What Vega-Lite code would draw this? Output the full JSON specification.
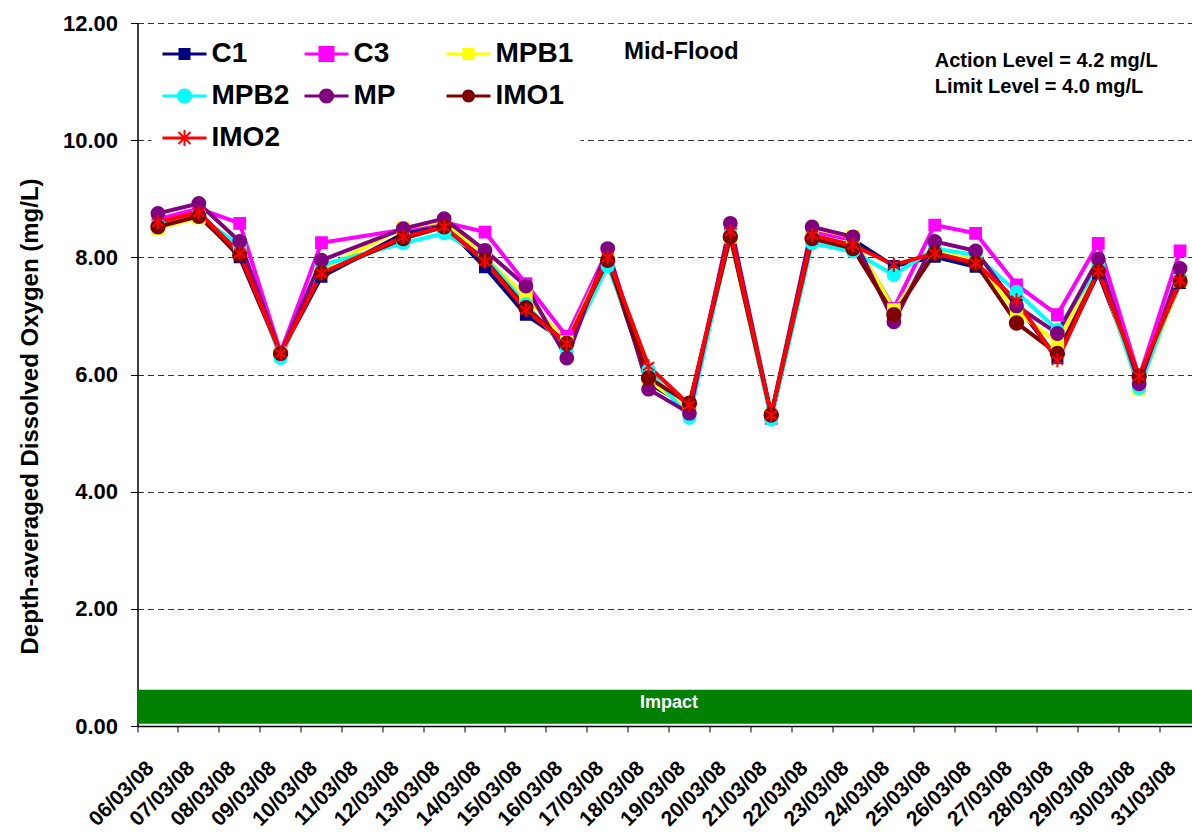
{
  "$schema": "https://vega.github.io/schema/vega-lite/v6.json",
  "width": 1063,
  "height": 703,
  "autosize": {"type": "none"},
  "padding": {"left": 137.5, "top": 23, "right": 0, "bottom": 106},
  "background": "white",
  "config": {"font": "Liberation Sans", "view": {"stroke": null}},
  "datasets": {
    "do": [
      {"date": "06/03/08", "C1": 8.55, "C3": 8.65, "MPB1": 8.5, "MPB2": 8.55, "MP": 8.75, "IMO1": 8.52, "IMO2": 8.6},
      {"date": "07/03/08", "C1": 8.75, "C3": 8.83, "MPB1": 8.68, "MPB2": 8.7, "MP": 8.92, "IMO1": 8.7, "IMO2": 8.77},
      {"date": "08/03/08", "C1": 8.0, "C3": 8.58, "MPB1": 8.1, "MPB2": 8.2, "MP": 8.27, "IMO1": 8.04, "IMO2": 8.07},
      {"date": "09/03/08", "C1": 6.36, "C3": 6.38, "MPB1": 6.36, "MPB2": 6.28, "MP": 6.36, "IMO1": 6.36, "IMO2": 6.36},
      {"date": "10/03/08", "C1": 7.67, "C3": 8.25, "MPB1": 7.8, "MPB2": 7.87, "MP": 7.95, "IMO1": 7.73, "IMO2": 7.73},
      {"date": "12/03/08", "C1": 8.4, "C3": 8.47, "MPB1": 8.5, "MPB2": 8.24, "MP": 8.49, "IMO1": 8.32, "IMO2": 8.35},
      {"date": "13/03/08", "C1": 8.55, "C3": 8.6, "MPB1": 8.62, "MPB2": 8.41, "MP": 8.66, "IMO1": 8.52, "IMO2": 8.52},
      {"date": "14/03/08", "C1": 7.83, "C3": 8.43, "MPB1": 8.0, "MPB2": 8.0, "MP": 8.12, "IMO1": 7.95, "IMO2": 7.93},
      {"date": "15/03/08", "C1": 7.02, "C3": 7.55, "MPB1": 7.33, "MPB2": 7.2, "MP": 7.51, "IMO1": 7.14, "IMO2": 7.1},
      {"date": "16/03/08", "C1": 6.55, "C3": 6.65, "MPB1": 6.55, "MPB2": 6.42, "MP": 6.28, "IMO1": 6.53, "IMO2": 6.53},
      {"date": "17/03/08", "C1": 7.95, "C3": 8.12, "MPB1": 8.05, "MPB2": 7.85, "MP": 8.15, "IMO1": 7.95, "IMO2": 8.0},
      {"date": "18/03/08", "C1": 5.85, "C3": 5.95, "MPB1": 5.9, "MPB2": 6.08, "MP": 5.75, "IMO1": 5.94, "IMO2": 6.14},
      {"date": "19/03/08", "C1": 5.45, "C3": 5.45, "MPB1": 5.4, "MPB2": 5.26, "MP": 5.34, "IMO1": 5.51, "IMO2": 5.48},
      {"date": "20/03/08", "C1": 8.4, "C3": 8.52, "MPB1": 8.35, "MPB2": 8.4, "MP": 8.58, "IMO1": 8.35, "IMO2": 8.44},
      {"date": "21/03/08", "C1": 5.31, "C3": 5.25, "MPB1": 5.3, "MPB2": 5.23, "MP": 5.31, "IMO1": 5.31, "IMO2": 5.31},
      {"date": "22/03/08", "C1": 8.45, "C3": 8.45, "MPB1": 8.5, "MPB2": 8.24, "MP": 8.52, "IMO1": 8.32, "IMO2": 8.38},
      {"date": "23/03/08", "C1": 8.3, "C3": 8.3, "MPB1": 8.35, "MPB2": 8.1, "MP": 8.35, "IMO1": 8.15, "IMO2": 8.21},
      {"date": "24/03/08", "C1": 7.85, "C3": 7.13, "MPB1": 7.1, "MPB2": 7.7, "MP": 6.9, "IMO1": 7.02, "IMO2": 7.87},
      {"date": "25/03/08", "C1": 8.01, "C3": 8.55, "MPB1": 8.1, "MPB2": 8.15, "MP": 8.27, "IMO1": 8.07, "IMO2": 8.07},
      {"date": "26/03/08", "C1": 7.84, "C3": 8.41, "MPB1": 7.95, "MPB2": 8.04, "MP": 8.11, "IMO1": 7.9, "IMO2": 7.9},
      {"date": "27/03/08", "C1": 7.19, "C3": 7.53, "MPB1": 7.07, "MPB2": 7.41, "MP": 7.17, "IMO1": 6.88, "IMO2": 7.27},
      {"date": "28/03/08", "C1": 6.28, "C3": 7.02, "MPB1": 6.55, "MPB2": 6.76, "MP": 6.7, "IMO1": 6.36, "IMO2": 6.24},
      {"date": "29/03/08", "C1": 7.73, "C3": 8.24, "MPB1": 7.85, "MPB2": 7.85, "MP": 7.97, "IMO1": 7.76, "IMO2": 7.76},
      {"date": "30/03/08", "C1": 5.9, "C3": 5.95, "MPB1": 5.75, "MPB2": 5.77, "MP": 5.84, "IMO1": 5.97, "IMO2": 5.97},
      {"date": "31/03/08", "C1": 7.56, "C3": 8.11, "MPB1": 7.6, "MPB2": 7.65, "MP": 7.81, "IMO1": 7.59, "IMO2": 7.61}
    ]
  },
  "data": {"name": "do"},
  "resolve": {"legend": {"color": "independent", "shape": "independent"}},
  "layer": [
    {
      "data": {"values": [{"band": "Impact"}]},
      "mark": {"type": "rect", "color": "#008000", "xOffset": 3.5},
      "encoding": {
        "y": {
          "datum": 0.04, "type": "quantitative",
          "scale": {"domain": [0, 12], "nice": false, "zero": true},
          "axis": {"title": "Depth-averaged Dissolved Oxygen (mg/L)", "values": [0, 2, 4, 6, 8, 10, 12], "format": ".2f", "grid": true, "gridDash": [6, 4], "gridColor": "#333333", "gridWidth": 1, "domainColor": "black", "domainWidth": 1.5, "tickColor": "black", "tickSize": 7, "labelFontSize": 22, "labelFontWeight": "bold", "labelColor": "black", "labelPadding": 13, "titleFontSize": 24, "titleFontWeight": "bold", "titleColor": "black", "titleX": -107, "titleY": 393, "titleAlign": "center", "titleBaseline": "middle", "titleAngle": -90}
        },
        "y2": {"datum": 0.62}
      }
    },
    {
      "data": {"values": [{"t": "Impact"}]},
      "mark": {"type": "text", "color": "white", "fontSize": 18, "fontWeight": "bold", "align": "center", "baseline": "middle"},
      "encoding": {
        "x": {
          "datum": "19/03/08", "type": "ordinal", "bandPosition": 0,
          "scale": {"type": "band", "paddingInner": 0, "paddingOuter": 0,
            "domain": ["06/03/08","07/03/08","08/03/08","09/03/08","10/03/08","11/03/08","12/03/08","13/03/08","14/03/08","15/03/08","16/03/08","17/03/08","18/03/08","19/03/08","20/03/08","21/03/08","22/03/08","23/03/08","24/03/08","25/03/08","26/03/08","27/03/08","28/03/08","29/03/08","30/03/08","31/03/08"]},
          "axis": {"title": null, "bandPosition": 0, "labelAngle": -45, "labelAlign": "right", "labelBaseline": "alphabetic", "labelOffset": -3, "labelPadding": 37, "labelFontSize": 21, "labelFontWeight": "bold", "labelColor": "black", "tickSize": 6, "tickColor": "black", "domainColor": "black", "domainWidth": 1.5, "grid": false, "labelOverlap": false, "labelBound": false}
        },
        "y": {"datum": 0.39, "type": "quantitative"},
        "text": {"field": "t"}
      }
    },
    {
      "transform": [{"fold": ["C1", "C3", "MPB1", "MPB2", "MP", "IMO1", "IMO2"], "as": ["series", "value"]}],
      "mark": {"type": "line", "strokeWidth": 4},
      "encoding": {
        "x": {"field": "date", "type": "ordinal", "bandPosition": 0.5},
        "y": {"field": "value", "type": "quantitative"},
        "stroke": {
          "field": "series", "type": "nominal", "legend": null,
          "scale": {"domain": ["C1", "C3", "MPB1", "MPB2", "MP", "IMO1", "IMO2"], "range": ["#000080", "#FF00FF", "#FFFF00", "#00FFFF", "#800080", "#800000", "#FF0000"]}
        }
      }
    },
    {
      "transform": [{"fold": ["C1", "C3", "MPB1", "MPB2", "MP", "IMO1", "IMO2"], "as": ["series", "value"]}, {"filter": "datum.series == 'C1' || datum.series == 'C3' || datum.series == 'MPB1'"}],
      "mark": {"type": "point", "shape": "square", "opacity": 1, "strokeWidth": 2},
      "encoding": {
        "x": {"field": "date", "type": "ordinal", "bandPosition": 0.5},
        "y": {"field": "value", "type": "quantitative"},
        "fill": {
          "field": "series", "type": "nominal", "legend": null,
          "scale": {"domain": ["C1", "C3", "MPB1", "MPB2", "MP", "IMO1", "IMO2"], "range": ["#000080", "#FF00FF", "#FFFF00", "#00FFFF", "#800080", "#800000", "#FF0000"]}
        },
        "stroke": {"field": "series", "type": "nominal", "legend": null},
        "size": {
          "field": "series", "type": "nominal", "legend": null,
          "scale": {"domain": ["C1", "C3", "MPB1", "MPB2", "MP", "IMO1", "IMO2"], "range": [100, 196, 100, 150, 150, 133, 256]}
        }
      }
    },
    {
      "transform": [{"fold": ["C1", "C3", "MPB1", "MPB2", "MP", "IMO1", "IMO2"], "as": ["series", "value"]}, {"filter": "datum.series == 'MPB2' || datum.series == 'MP' || datum.series == 'IMO1'"}],
      "mark": {"type": "point", "shape": "circle", "opacity": 1, "strokeWidth": 2},
      "encoding": {
        "x": {"field": "date", "type": "ordinal", "bandPosition": 0.5},
        "y": {"field": "value", "type": "quantitative"},
        "fill": {"field": "series", "type": "nominal", "legend": null},
        "stroke": {"field": "series", "type": "nominal", "legend": null},
        "size": {"field": "series", "type": "nominal", "legend": null}
      }
    },
    {
      "transform": [{"fold": ["C1", "C3", "MPB1", "MPB2", "MP", "IMO1", "IMO2"], "as": ["series", "value"]}, {"filter": "datum.series == 'IMO2'"}],
      "mark": {"type": "point", "shape": "M0,-1V1M-0.8,-0.6L0.8,0.6M-0.8,0.6L0.8,-0.6", "opacity": 1, "strokeWidth": 2},
      "encoding": {
        "x": {"field": "date", "type": "ordinal", "bandPosition": 0.5},
        "y": {"field": "value", "type": "quantitative"},
        "fill": {"field": "series", "type": "nominal", "legend": null},
        "stroke": {"field": "series", "type": "nominal", "legend": null},
        "size": {"field": "series", "type": "nominal", "legend": null}
      }
    },
    {
      "transform": [{"fold": ["C1", "C3", "MPB1", "MPB2", "MP", "IMO1", "IMO2"], "as": ["series", "value"]}, {"filter": "datum.date == '06/03/08'"}],
      "mark": {"type": "point", "filled": true, "opacity": 0},
      "encoding": {
        "x": {"field": "date", "type": "ordinal", "bandPosition": 0.5},
        "y": {"field": "value", "type": "quantitative"},
        "color": {
          "field": "series", "type": "nominal",
          "scale": {"domain": ["C1", "C3", "MPB1", "MPB2", "MP", "IMO1", "IMO2"], "range": ["#000080", "#FF00FF", "#FFFF00", "#00FFFF", "#800080", "#800000", "#FF0000"]},
          "legend": {"title": null, "orient": "none", "direction": "horizontal", "legendX": 14, "legendY": 10, "columns": 3, "gridAlign": "all", "columnPadding": 11, "rowPadding": 14, "padding": 7, "fillColor": "white", "symbolSize": 400, "symbolStrokeWidth": 0, "symbolOpacity": 1, "labelOffset": 25, "labelFontSize": 28, "labelFontWeight": "bold", "labelColor": "black", "labelLimit": 300}
        },
        "shape": {
          "field": "series", "type": "nominal",
          "scale": {"domain": ["C1", "C3", "MPB1", "MPB2", "MP", "IMO1", "IMO2"], "range": [
            "M-1,-0.15H3.4V0.15H-1ZM0.6,-0.6H1.8V0.6H0.6Z",
            "M-1,-0.15H3.4V0.15H-1ZM0.4,-0.8H2V0.8H0.4Z",
            "M-1,-0.15H3.4V0.15H-1ZM0.6,-0.6H1.8V0.6H0.6Z",
            "M-1,-0.15H3.4V0.15H-1ZM0.45,0A0.75,0.75 0 1,1 1.95,0A0.75,0.75 0 1,1 0.45,0Z",
            "M-1,-0.15H3.4V0.15H-1ZM0.45,0A0.75,0.75 0 1,1 1.95,0A0.75,0.75 0 1,1 0.45,0Z",
            "M-1,-0.15H3.4V0.15H-1ZM0.55,0A0.65,0.65 0 1,1 1.85,0A0.65,0.65 0 1,1 0.55,0Z",
            "M-1,-0.15H3.4V0.15H-1ZM1.1,-0.8H1.3V0.8H1.1ZM0.67,-0.67L1.87,0.53L1.73,0.67L0.53,-0.53ZM0.67,0.67L0.53,0.53L1.73,-0.67L1.87,-0.53Z"
          ]},
          "legend": {"title": null, "orient": "none", "direction": "horizontal", "legendX": 14, "legendY": 10, "columns": 3, "gridAlign": "all", "columnPadding": 11, "rowPadding": 14, "padding": 7, "fillColor": "white", "symbolSize": 400, "symbolStrokeWidth": 0, "symbolOpacity": 1, "labelOffset": 25, "labelFontSize": 28, "labelFontWeight": "bold", "labelColor": "black", "labelLimit": 300}
        }
      }
    },
    {
      "data": {"values": [{"t": "Mid-Flood"}]},
      "mark": {"type": "text", "color": "black", "fontSize": 24, "fontWeight": "bold", "align": "center", "baseline": "alphabetic"},
      "encoding": {
        "x": {"datum": "19/03/08", "type": "ordinal", "bandPosition": 0.3},
        "y": {"datum": 11.38, "type": "quantitative"},
        "text": {"field": "t"}
      }
    },
    {
      "data": {"values": [{"t": "Action Level = 4.2 mg/L", "v": 11.25}, {"t": "Limit Level = 4.0 mg/L", "v": 10.8}]},
      "mark": {"type": "text", "color": "black", "fontSize": 20, "fontWeight": "bold", "align": "left", "baseline": "alphabetic"},
      "encoding": {
        "x": {"datum": "25/03/08", "type": "ordinal", "bandPosition": 0.5},
        "y": {"field": "v", "type": "quantitative"},
        "text": {"field": "t"}
      }
    }
  ]
}
